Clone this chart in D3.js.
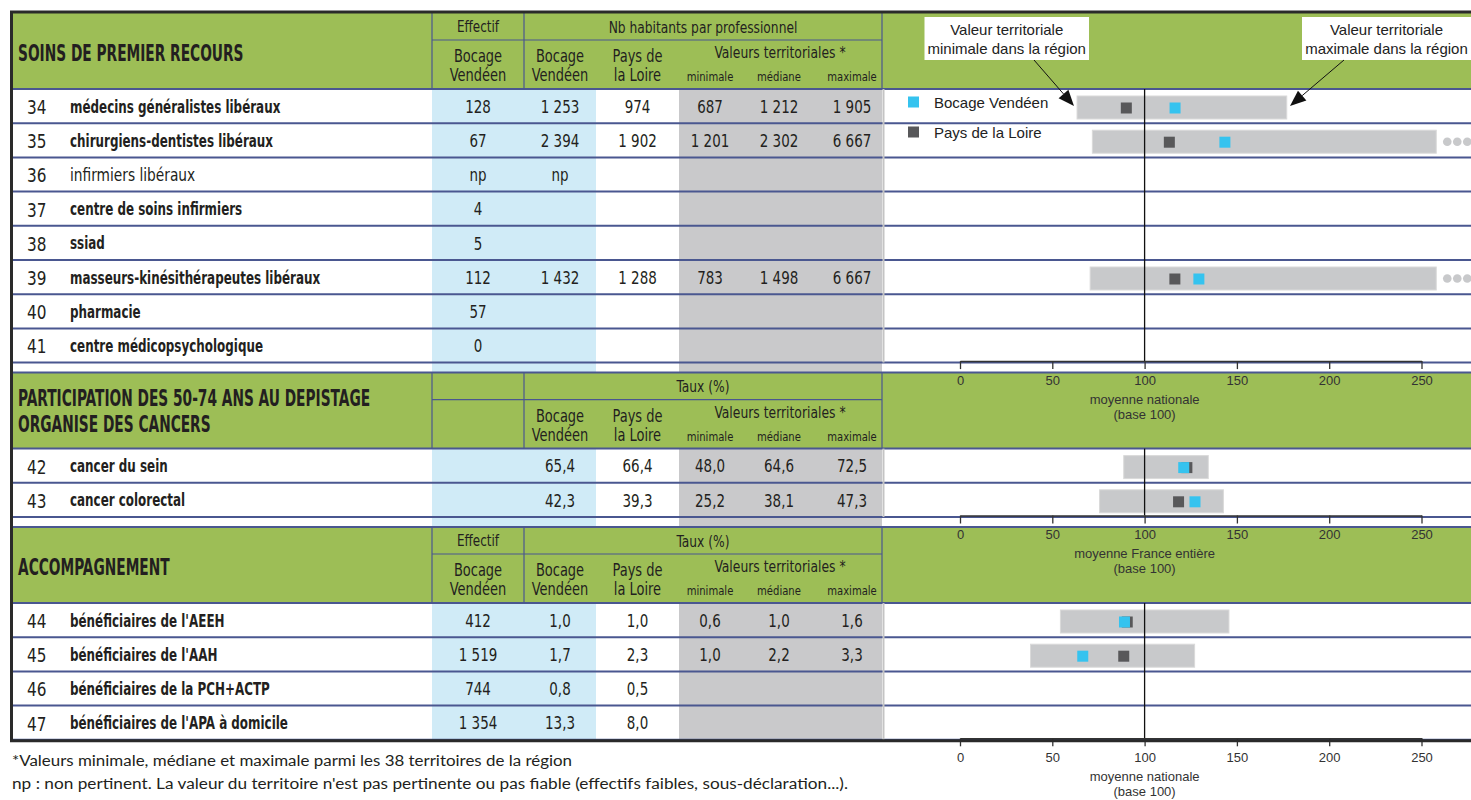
<!DOCTYPE html>
<html><head><meta charset="utf-8">
<script src="https://cdn.jsdelivr.net/npm/d3@7"></script>
<style>
body{margin:0;background:#fff;}
svg{display:block;}
</style></head><body>
<svg id="c" width="1471" height="800"></svg>
<script>
// ---------------- DATA ----------------
const sectionTitles = [["SOINS DE PREMIER RECOURS"], ["PARTICIPATION DES 50-74 ANS AU DEPISTAGE", "ORGANISE DES CANCERS"], ["ACCOMPAGNEMENT"]];
const sectionGroupHeaders = ["Nb habitants par professionnel", "Taux (%)", "Taux (%)"];
const sectionHasEffectif = [true, false, true];
const axisCaptions = [["moyenne nationale", "(base 100)"], ["moyenne France entière", "(base 100)"], ["moyenne nationale", "(base 100)"]];
const axisTicks = [0, 50, 100, 150, 200, 250];
const seriesNames = ["Bocage Vendéen", "Pays de la Loire"];
const calloutTexts = [["Valeur territoriale", "minimale dans la région"], ["Valeur territoriale", "maximale dans la région"]];
const footnotes = ["*Valeurs minimale, médiane et maximale parmi les 38 territoires de la région",
  "np : non pertinent. La valeur du territoire n'est pas pertinente ou pas fiable (effectifs faibles, sous-déclaration...)."];

const rowSection = [0,0,0,0,0,0,0,0,1,1,2,2,2,2];
const rowNumbers = [34,35,36,37,38,39,40,41,42,43,44,45,46,47];
const rowLabels = ["médecins généralistes libéraux","chirurgiens-dentistes libéraux","infirmiers libéraux","centre de soins infirmiers","ssiad","masseurs-kinésithérapeutes libéraux","pharmacie","centre médicopsychologique","cancer du sein","cancer colorectal","bénéficiaires de l'AEEH","bénéficiaires de l'AAH","bénéficiaires de la PCH+ACTP","bénéficiaires de l'APA à domicile"];
const rowBold = [true,true,false,true,true,true,true,true,true,true,true,true,true,true];
const effectifBV = ["128","67","np","4","5","112","57","0","","","412","1 519","744","1 354"];
const valueBV  = ["1 253","2 394","np","","","1 432","","","65,4","42,3","1,0","1,7","0,8","13,3"];
const valuePDL = ["974","1 902","","","","1 288","","","66,4","39,3","1,0","2,3","0,5","8,0"];
const valueMin = ["687","1 201","","","","783","","","48,0","25,2","0,6","1,0","",""];
const valueMed = ["1 212","2 302","","","","1 498","","","64,6","38,1","1,0","2,2","",""];
const valueMax = ["1 905","6 667","","","","6 667","","","72,5","47,3","1,6","3,3","",""];
// indices (base 100) shown in the chart
const indexBV  = [116.5,143.5,null,null,null,129.4,null,null,121.2,127.3,89.1,66.5,null,null];
const indexPDL = [90.1,113.4,null,null,null,116.4,null,null,122.9,118.4,90.6,88.7,null,null];
const indexMin = [63.4,71.7,null,null,null,70.5,null,null,88.7,75.6,54.4,38.2,null,null];
const indexMax = [177.0,400,null,null,null,602,null,null,134.5,142.7,145.7,127.1,null,null];

// ---------------- STYLE / LAYOUT ----------------
const C = {green:"#9dbe56", blue:"#d0ebf7", grayCol:"#c9c9cb", navy:"#4a5790", frame:"#2a2a2a",
  text:"#231f20", cyan:"#35c3ef", dark:"#58585a", bar:"#c8c9cb", barStroke:"#dadada", axis:"#333"};
const COND = '"DejaVu Sans Condensed","Liberation Sans Narrow",sans-serif';
const ARIAL = '"Liberation Sans",Arial,sans-serif';
const FOOT = 'Lato,"Open Sans",sans-serif';

const X0 = 12, XR = 1471;
const colEff = [432, 524], colBV = [524, 596], colPDL = [596, 679], colVT = [679, 882];
const cx = {eff:478, bv:560, pdl:637.5, min:710, med:779, max:852, vt:780};
const top0 = 13, headerH = 76, rowH = 34.2, gapH = 10;
const barCap = 258;
const footWidths = [560, 836];

const svg = d3.select("#c");
svg.append("rect").attr("width",1471).attr("height",800).attr("fill","#fff");

// condensed text helper (horizontal squeeze to mimic a condensed face)
function T(parent, txt, xv, yv, o) {
  return parent.append("text")
    .attr("transform", `translate(${xv},${yv}) scale(${o.sx || 1},1)`)
    .attr("text-anchor", o.anchor || "start").attr("dominant-baseline", "central")
    .attr("font-family", o.family || COND).attr("font-size", o.size)
    .attr("font-weight", o.bold ? "bold" : "normal").attr("fill", o.fill || C.text).text(txt);
}

// layout per section
const secLayout = [];
let yy = top0;
for (let s = 0; s < sectionTitles.length; s++) {
  const n = rowSection.filter(d => d === s).length;
  const hdrTop = yy, rowsTop = yy + headerH, rowsBottom = rowsTop + n * rowH;
  secLayout.push({hdrTop, rowsTop, rowsBottom});
  yy = rowsBottom + gapH;
}
const rowTop = rowSection.map((s, i) => {
  const idx = rowSection.slice(0, i).filter(d => d === s).length;
  return secLayout[s].rowsTop + idx * rowH;
});
const tableBottom = secLayout[secLayout.length-1].rowsBottom;

const x = d3.scaleLinear().domain([0, 250]).range([960, 1421.5]);

// column stripes
svg.append("rect").attr("x", colEff[0]).attr("y", secLayout[0].rowsTop).attr("width", colBV[1]-colEff[0])
  .attr("height", tableBottom - secLayout[0].rowsTop).attr("fill", C.blue);
svg.append("rect").attr("x", colVT[0]).attr("y", secLayout[0].rowsTop).attr("width", colVT[1]-colVT[0])
  .attr("height", tableBottom - secLayout[0].rowsTop).attr("fill", C.grayCol);

// headers
secLayout.forEach((L, s) => {
  const g = svg.append("g");
  g.append("rect").attr("x", X0).attr("y", L.hdrTop).attr("width", XR - X0).attr("height", headerH).attr("fill", C.green);
  if (s > 0) g.append("line").attr("x1", X0).attr("x2", XR).attr("y1", L.hdrTop).attr("y2", L.hdrTop).attr("stroke", C.navy).attr("stroke-width", 2);
  g.append("line").attr("x1", X0).attr("x2", XR).attr("y1", L.rowsTop).attr("y2", L.rowsTop).attr("stroke", C.navy).attr("stroke-width", 2);
  g.append("line").attr("x1", colEff[0]).attr("x2", colVT[1]).attr("y1", L.hdrTop + 27).attr("y2", L.hdrTop + 27).attr("stroke", C.navy).attr("stroke-width", 1.2);
  [colEff[0], colEff[1], colVT[1]].forEach(xv => g.append("line").attr("x1", xv).attr("x2", xv)
    .attr("y1", L.hdrTop).attr("y2", L.rowsTop).attr("stroke", C.navy).attr("stroke-width", 1.2));
  const lines = sectionTitles[s];
  const tY = lines.length === 1 ? [L.hdrTop + 40] : [L.hdrTop + 26, L.hdrTop + 52];
  lines.forEach((t, i) => T(g, t, 18, tY[i], {size: 23, bold: true, sx: 0.665}));
  const ht = (txt, xv, yv, size, sx) => T(g, txt, xv, yv, {size, anchor: "middle", sx: sx || 0.9});
  if (sectionHasEffectif[s]) {
    ht("Effectif", cx.eff, L.hdrTop + 14, 15.5, 0.86);
    ht("Bocage", cx.eff, L.hdrTop + 43, 17, 0.85); ht("Vendéen", cx.eff, L.hdrTop + 62, 17, 0.85);
  }
  ht(sectionGroupHeaders[s], (colEff[1] + colVT[1]) / 2, L.hdrTop + 14, 15.5, 0.88);
  ht("Bocage", cx.bv, L.hdrTop + 43, 17, 0.85); ht("Vendéen", cx.bv, L.hdrTop + 62, 17, 0.85);
  ht("Pays de", cx.pdl, L.hdrTop + 43, 17, 0.85); ht("la Loire", cx.pdl, L.hdrTop + 62, 17, 0.85);
  ht("Valeurs territoriales *", cx.vt, L.hdrTop + 40, 16, 0.86);
  ht("minimale", cx.min, L.hdrTop + 64, 13, 0.86); ht("médiane", cx.med, L.hdrTop + 64, 13, 0.86); ht("maximale", cx.max, L.hdrTop + 64, 13, 0.86);
});

// row separators
const rowsG = svg.append("g");
rowTop.forEach((t, i) => {
  rowsG.append("line").attr("x1", X0).attr("x2", XR).attr("y1", t + rowH).attr("y2", t + rowH)
    .attr("stroke", C.navy).attr("stroke-width", 2);
});

// row texts
rowTop.forEach((t, i) => {
  const yc = t + 18;
  T(rowsG, rowNumbers[i], 27, yc, {size: 20, sx: 0.85});
  T(rowsG, rowLabels[i], 70, yc, {size: 17, bold: rowBold[i], sx: rowBold[i] ? 0.78 : 0.9});
  [[effectifBV, cx.eff], [valueBV, cx.bv], [valuePDL, cx.pdl], [valueMin, cx.min], [valueMed, cx.med], [valueMax, cx.max]]
    .forEach(([arr, xv]) => T(rowsG, arr[i], xv, yc, {size: 17, anchor: "middle", sx: 0.88}));
});

// chart area
const chartG = svg.append("g");
secLayout.forEach(L => {
  chartG.append("line").attr("x1", 883.5).attr("x2", 883.5).attr("y1", L.rowsTop).attr("y2", L.rowsBottom)
    .attr("stroke", "#c4c4c4").attr("stroke-width", 2);
});
rowTop.forEach((t, i) => {
  if (indexMin[i] == null) return;
  const hi = Math.min(indexMax[i], barCap);
  chartG.append("rect").attr("x", x(indexMin[i])).attr("y", t + 7).attr("width", x(hi) - x(indexMin[i]))
    .attr("height", 23).attr("fill", C.bar).attr("stroke", C.barStroke).attr("stroke-width", 1);
  if (indexMax[i] > barCap) {
    [0, 1, 2].forEach(k => chartG.append("circle").attr("cx", x(barCap) + 11 + k * 10).attr("cy", t + 18.5)
      .attr("r", 4.3).attr("fill", C.bar));
  }
});
secLayout.forEach(L => {
  chartG.append("line").attr("x1", x(100)).attr("x2", x(100)).attr("y1", L.rowsTop).attr("y2", L.rowsBottom - 1.5)
    .attr("stroke", "#111").attr("stroke-width", 1.3);
});
const ms = 11;
rowTop.forEach((t, i) => {
  if (indexPDL[i] != null) chartG.append("rect").attr("x", x(indexPDL[i]) - ms/2).attr("y", t + 19 - ms/2)
    .attr("width", ms).attr("height", ms).attr("fill", C.dark);
  if (indexBV[i] != null) chartG.append("rect").attr("x", x(indexBV[i]) - ms/2).attr("y", t + 19 - ms/2)
    .attr("width", ms).attr("height", ms).attr("fill", C.cyan);
});

// axes
secLayout.forEach((L, s) => {
  const ay = L.rowsBottom - 1.5;
  const ax = d3.axisBottom(x).tickValues(axisTicks).tickSize(8).tickSizeOuter(0).tickPadding(6.5);
  const ag = svg.append("g").attr("transform", `translate(0,${ay})`).call(ax);
  ag.select(".domain").attr("stroke", C.axis).attr("stroke-width", 1.5);
  ag.selectAll(".tick line").attr("stroke", C.axis).attr("stroke-width", 1.3);
  ag.selectAll(".tick text").attr("font-family", ARIAL).attr("font-size", 13).attr("fill", C.axis);
  axisCaptions[s].forEach((c, k) => svg.append("text").attr("x", x(100)).attr("y", ay + 38 + k * 15)
    .attr("text-anchor", "middle").attr("dominant-baseline", "central").attr("font-family", ARIAL)
    .attr("font-size", 13).attr("fill", C.axis).text(c));
});

// frame
svg.append("line").attr("x1", 10).attr("x2", XR).attr("y1", 12).attr("y2", 12).attr("stroke", C.frame).attr("stroke-width", 3);
svg.append("line").attr("x1", 11.5).attr("x2", 11.5).attr("y1", 11).attr("y2", tableBottom + 1.5).attr("stroke", C.frame).attr("stroke-width", 3);
svg.append("line").attr("x1", 10).attr("x2", XR).attr("y1", tableBottom + 1).attr("y2", tableBottom + 1).attr("stroke", C.frame).attr("stroke-width", 3);

// legend
const lg = svg.append("g");
[C.cyan, C.dark].forEach((col, k) => {
  const ly = 102 + k * 30;
  lg.append("rect").attr("x", 908).attr("y", ly - 5.5).attr("width", 11).attr("height", 11).attr("fill", col);
  lg.append("text").attr("x", 934).attr("y", ly).attr("dominant-baseline", "central").attr("font-family", ARIAL)
    .attr("font-size", 15).attr("fill", "#222").text(seriesNames[k]);
});

// callouts
const callBoxes = [[924.5, 1089], [1302, 1471]];
callBoxes.forEach((b, k) => {
  svg.append("rect").attr("x", b[0]).attr("y", 17).attr("width", b[1] - b[0]).attr("height", 43).attr("fill", "#fff");
  calloutTexts[k].forEach((t, j) => svg.append("text").attr("x", (b[0] + b[1]) / 2).attr("y", 29 + j * 19)
    .attr("text-anchor", "middle").attr("dominant-baseline", "central").attr("font-family", ARIAL)
    .attr("font-size", 15).attr("fill", "#222").text(t));
});
function arrow(x1, y1, x2, y2) {
  const ang = Math.atan2(y2 - y1, x2 - x1), L = 16, Wd = 6.5;
  const bx = x2 - L * Math.cos(ang), by = y2 - L * Math.sin(ang);
  svg.append("line").attr("x1", x1).attr("y1", y1).attr("x2", bx).attr("y2", by).attr("stroke", "#111").attr("stroke-width", 1);
  const px = -Math.sin(ang) * Wd, py = Math.cos(ang) * Wd;
  svg.append("path").attr("d", `M${x2},${y2}L${bx + px},${by + py}L${bx - px},${by - py}Z`).attr("fill", "#111");
}
arrow(1034, 60, 1074, 106);
arrow(1344, 60, 1290, 106);

// footnotes
footnotes.forEach((t, k) => svg.append("text").attr("x", 12).attr("y", 760 + k * 23).attr("dominant-baseline", "central")
  .attr("font-family", FOOT).attr("font-size", 15.5).attr("textLength", footWidths[k]).attr("lengthAdjust", "spacingAndGlyphs")
  .attr("fill", C.text).text(t));
</script>
</body></html>
